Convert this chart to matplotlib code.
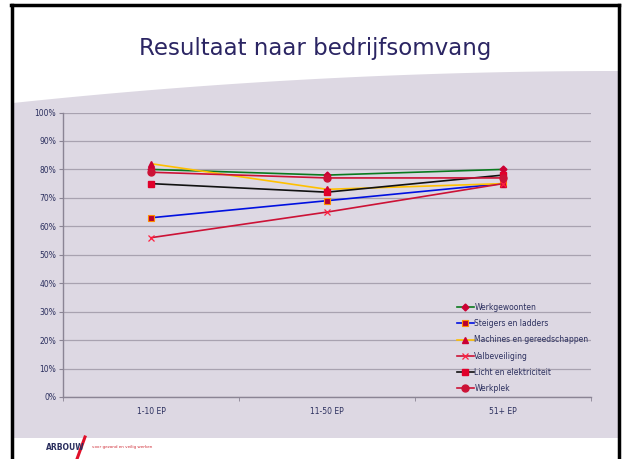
import matplotlib.pyplot as plt
import numpy as np
from matplotlib.patches import Polygon
from matplotlib.lines import Line2D

categories = ["1-10 EP", "11-50 EP", "51+ EP"]
series_names = [
    "Werkgewoonten",
    "Steigers en ladders",
    "Machines en gereedschappen",
    "Valbeveiliging",
    "Licht en elektriciteit",
    "Werkplek",
]
werkgewoonten = [80, 78, 80]
steigers = [63, 69, 75]
machines = [82, 73, 75]
valbeveiliging = [56, 65, 75]
licht = [75, 72, 78]
werkplek = [79, 77, 77]
y_ticks = list(range(0, 101, 10))

W, H = 624, 459
fig = plt.figure(figsize=(W / 100, H / 100), dpi=100)
fig.patch.set_facecolor("white")


def fx(px):
    return px / W


def fy(py):
    return 1 - py / H


# lavender slide background with curved top edge
xs = np.linspace(13, 618, 60)
t = (xs - 13) / (618 - 13)
ys = 103 - 32 * (2 * t - t ** 2)
pts = [(fx(x), fy(y)) for x, y in zip(xs, ys)]
pts += [(fx(618), fy(438)), (fx(13), fy(438))]
fig.patches.append(Polygon(pts, closed=True, facecolor="#ddd8e3",
                           edgecolor="none", transform=fig.transFigure, zorder=-1))

# slide frame
frame_kw = dict(color="black", lw=2.5, transform=fig.transFigure, zorder=5)
fig.lines.append(Line2D([fx(11), fx(619)], [fy(5), fy(5)], **frame_kw))
fig.lines.append(Line2D([fx(11.5), fx(11.5)], [fy(5), 0], **frame_kw))
fig.lines.append(Line2D([fx(619), fx(619)], [fy(5), 0], **frame_kw))

fig.text(fx(315), fy(48), "Resultaat naar bedrijfsomvang", ha="center",
         va="center", fontsize=16.5, color="#2b2563")

# logo
fig.lines.append(Line2D([fx(85), fx(77)], [fy(437), fy(459)], color="#e0102a",
                        lw=2.2, transform=fig.transFigure, zorder=4))
fig.text(fx(46), fy(447), "ARBOUW", ha="left", va="center", fontsize=5.5,
         fontweight="bold", color="#2b2f5e", zorder=6)
fig.text(fx(92), fy(447), "voor gezond en veilig werken", ha="left",
         va="center", fontsize=3, color="#d0303a")

ax = fig.add_axes([fx(63), fy(397), fx(591) - fx(63), fy(112.5) - fy(397)])
ax.set_zorder(2)
ax.patch.set_alpha(0)

x = np.arange(len(categories))
styles = [
    (werkgewoonten, "#0a7a1e", dict(marker="D", ms=3.5, mfc="#cc0033", mec="#cc0033")),
    (steigers, "#0010e0", dict(marker="s", ms=4.5, mfc="#b80030", mec="#ff8c00", mew=0.8)),
    (machines, "#ffc000", dict(marker="^", ms=5, mfc="#cc0033", mec="#cc0033")),
    (valbeveiliging, "#cc1236", dict(marker="x", ms=5, mfc="none", mec="#ff2040", mew=0.9)),
    (licht, "#111111", dict(marker="s", ms=5, mfc="#e0002a", mec="#e0002a")),
    (werkplek, "#cc1236", dict(marker="o", ms=5, mfc="#cc1236", mec="#cc1236")),
]
for name, (vals, col, mk) in zip(series_names, styles):
    ax.plot(x, vals, color=col, lw=1.2, label=name, **mk)

ax.set_xlim(-0.5, 2.5)
ax.set_ylim(0, 100)
ax.set_yticks(y_ticks)
ax.set_yticklabels([f"{v}%" for v in y_ticks])
ax.set_xticks(x)
ax.set_xticklabels(categories)
ax.set_xticks([-0.5, 0.5, 1.5, 2.5], minor=True)
ax.tick_params(axis="x", which="major", length=0, pad=7.5, labelsize=5.5,
               labelcolor="#2b2f5e")
ax.tick_params(axis="x", which="minor", length=3, color="#8a8494")
ax.tick_params(axis="y", length=3, color="#8a8494", pad=2, labelsize=5.5,
               labelcolor="#2b2f5e")
ax.grid(axis="y", color="#a8a2b0", lw=0.9)
ax.set_axisbelow(True)
for s in ["top", "right"]:
    ax.spines[s].set_visible(False)
for s in ["left", "bottom"]:
    ax.spines[s].set_color("#8a8494")
    ax.spines[s].set_linewidth(1)

leg = ax.legend(loc="upper left", bbox_to_anchor=(fx(453), fy(299)),
                bbox_transform=fig.transFigure, frameon=False, fontsize=5.5,
                handlelength=2.2, handletextpad=0.1, labelspacing=0.95,
                borderpad=0, labelcolor="#2b2f5e")

fig.savefig("out.png", dpi=100)
